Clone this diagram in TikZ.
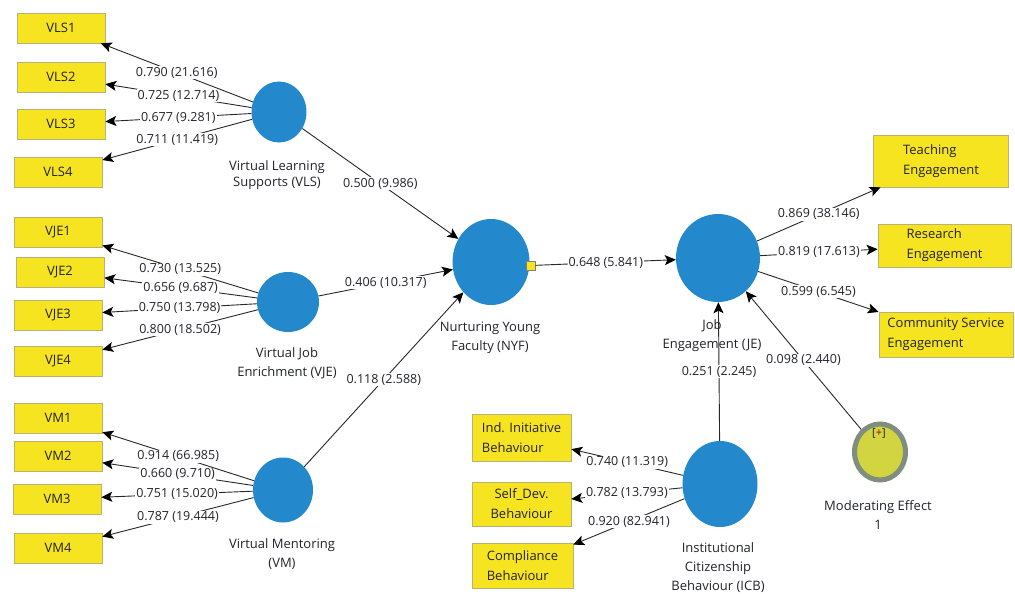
\documentclass[tikz,border=0pt]{standalone}
\usepackage{fontspec}
\setmainfont{Open Sans}
\usetikzlibrary{shapes.geometric,arrows.meta}
\definecolor{plsyellow}{RGB}{247,228,32}
\definecolor{boxedge}{RGB}{185,178,120}
\definecolor{plsblue}{RGB}{36,137,204}
\definecolor{modring}{RGB}{128,142,128}
\definecolor{modfill}{RGB}{210,212,64}
\definecolor{linegray}{RGB}{40,40,40}
\definecolor{txtcol}{RGB}{35,35,45}
\begin{document}
\begin{tikzpicture}[x=1pt,y=-1pt,
  font=\fontsize{13}{17}\selectfont, text=txtcol,
  ind/.style={draw=boxedge, line width=0.6pt, fill=plsyellow, minimum width=88pt, minimum height=30pt, inner sep=0pt, align=center},
  ind2/.style={ind, align=left, font=\fontsize{13}{20}\selectfont},
  lv/.style={ellipse, fill=plsblue, draw=none, inner sep=0pt},
  lvname/.style={align=center, font=\fontsize{13}{19}\selectfont, inner sep=0pt},
  coef/.style={fill=white, inner sep=1pt, font=\fontsize{12.5}{14}\selectfont},
  conn/.style={draw=linegray, line width=0.9pt, -{Stealth[length=11pt,width=10pt,inset=2.5pt,fill=black,color=black]}}
]
\useasboundingbox (0,0) rectangle (1015,594);
\fill[white] (0,0) rectangle (1015,594);

% indicator boxes (left)
\node[ind] (vls1) at (61,28) {VLS1};
\node[ind] (vls2) at (61,77) {VLS2};
\node[ind] (vls3) at (61,124) {VLS3};
\node[ind] (vls4) at (58,172) {VLS4};
\node[ind] (vje1) at (58,232) {VJE1};
\node[ind] (vje2) at (60,272) {VJE2};
\node[ind] (vje3) at (58,315) {VJE3};
\node[ind] (vje4) at (58,361) {VJE4};
\node[ind] (vm1) at (58,418) {VM1};
\node[ind] (vm2) at (58,456) {VM2};
\node[ind] (vm3) at (57,499) {VM3};
\node[ind] (vm4) at (58,548) {VM4};

% latent variables
\node[lv, minimum width=55pt, minimum height=61pt] (vls) at (279,112) {};
\node[lv, minimum width=62pt, minimum height=60pt] (vje) at (288,302) {};
\node[lv, minimum width=60pt, minimum height=65pt] (vm) at (283,490) {};
\node[lv, minimum width=77pt, minimum height=86pt] (nyf) at (491,262) {};
\node[lv, minimum width=84pt, minimum height=88pt] (je) at (718,258) {};
\node[lv, minimum width=75pt, minimum height=86pt] (icb) at (720,484) {};
\node[ellipse, draw=modring, line width=5pt, fill=modfill, minimum width=51pt, minimum height=56pt, inner sep=0pt] (mod) at (880,452) {};

% right and bottom indicator boxes
\node[ind2, minimum width=135pt, minimum height=52pt] (te) at (941,161) {Teaching\\Engagement};
\node[ind2, minimum width=133pt, minimum height=43pt] (re) at (944.5,245.5) {Research\\Engagement};
\node[ind2, minimum width=134pt, minimum height=45pt] (ce) at (946,334.5) {Community Service\\Engagement};
\node[ind2, minimum width=99pt, minimum height=47pt] (ii) at (521.5,437.5) {Ind. Initiative\\Behaviour};
\node[ind, font=\fontsize{13}{20}\selectfont, minimum width=99pt, minimum height=44pt] (sd) at (521.5,504) {Self\_Dev.\\Behaviour};
\node[ind2, minimum width=101pt, minimum height=45pt] (cb) at (522.5,565.5) {Compliance\\Behaviour};

% names of latent variables
\node[lvname, font=\fontsize{13}{16.5}\selectfont] (vlsn) at (277,175) {Virtual Learning\\Supports (VLS)};
\node[lvname] (vjen) at (287,363.5) {Virtual Job\\Enrichment (VJE)};
\node[lvname] (vmn) at (282,554.5) {Virtual Mentoring\\(VM)};
\node[lvname] (nyfn) at (490,337.5) {Nurturing Young\\Faculty (NYF)};
\node[lvname] (jen) at (712,335.5) {Job\\Engagement (JE)};
\node[lvname] (icbn) at (718,567.5) {Institutional\\Citizenship\\Behaviour (ICB)};
\node[lvname] (modn) at (878,515) {Moderating Effect\\1};
\node[font=\fontsize{11}{12}\selectfont, inner sep=0pt] (plus) at (879,433) {[\textcolor{red!60!black}{+}]};

% small square on NYF
\node[draw=gray, fill=plsyellow, minimum size=9pt, inner sep=0pt, line width=0.4pt] (sq) at (531,265.5) {};

% outer loadings VLS
\draw[conn] (vls) -- node[coef]{0.711 (11.419)} (vls4);
\draw[conn] (vls) -- node[coef]{0.677 (9.281)} (vls3);
\draw[conn] (vls) -- node[coef]{0.725 (12.714)} (vls2);
\draw[conn] (vls) -- node[coef]{0.790 (21.616)} (vls1);
% VJE
\draw[conn] (vje) -- node[coef]{0.800 (18.502)} (vje4);
\draw[conn] (vje) -- node[coef]{0.750 (13.798)} (vje3);
\draw[conn] (vje) -- node[coef]{0.656 (9.687)} (vje2);
\draw[conn] (vje) -- node[coef]{0.730 (13.525)} (vje1);
% VM
\draw[conn] (vm) -- node[coef]{0.787 (19.444)} (vm4);
\draw[conn] (vm) -- node[coef]{0.751 (15.020)} (vm3);
\draw[conn] (vm) -- node[coef]{0.660 (9.710)} (vm2);
\draw[conn] (vm) -- node[coef]{0.914 (66.985)} (vm1);

% structural paths
\draw[conn] (vls) -- node[coef]{0.500 (9.986)} (nyf);
\draw[conn] (vje) -- node[coef]{0.406 (10.317)} (nyf);
\draw[conn] (vm) -- node[coef]{0.118 (2.588)} (nyf);
\draw[conn] (sq) -- node[coef]{0.648 (5.841)} (je);
\draw[conn] (icb) -- node[coef]{0.251 (2.245)} (je);
\draw[conn] (mod) -- node[coef]{0.098 (2.440)} (je);

% JE indicators
\draw[conn] (je) -- node[coef]{0.599 (6.545)} (ce);
\draw[conn] (je) -- node[coef]{0.819 (17.613)} (re);
\draw[conn] (je) -- node[coef]{0.869 (38.146)} (te);

% ICB indicators
\draw[conn] (icb) -- node[coef]{0.920 (82.941)} (cb);
\draw[conn] (icb) -- node[coef]{0.782 (13.793)} (sd);
\draw[conn] (icb) -- node[coef]{0.740 (11.319)} (ii);
\end{tikzpicture}
\end{document}
